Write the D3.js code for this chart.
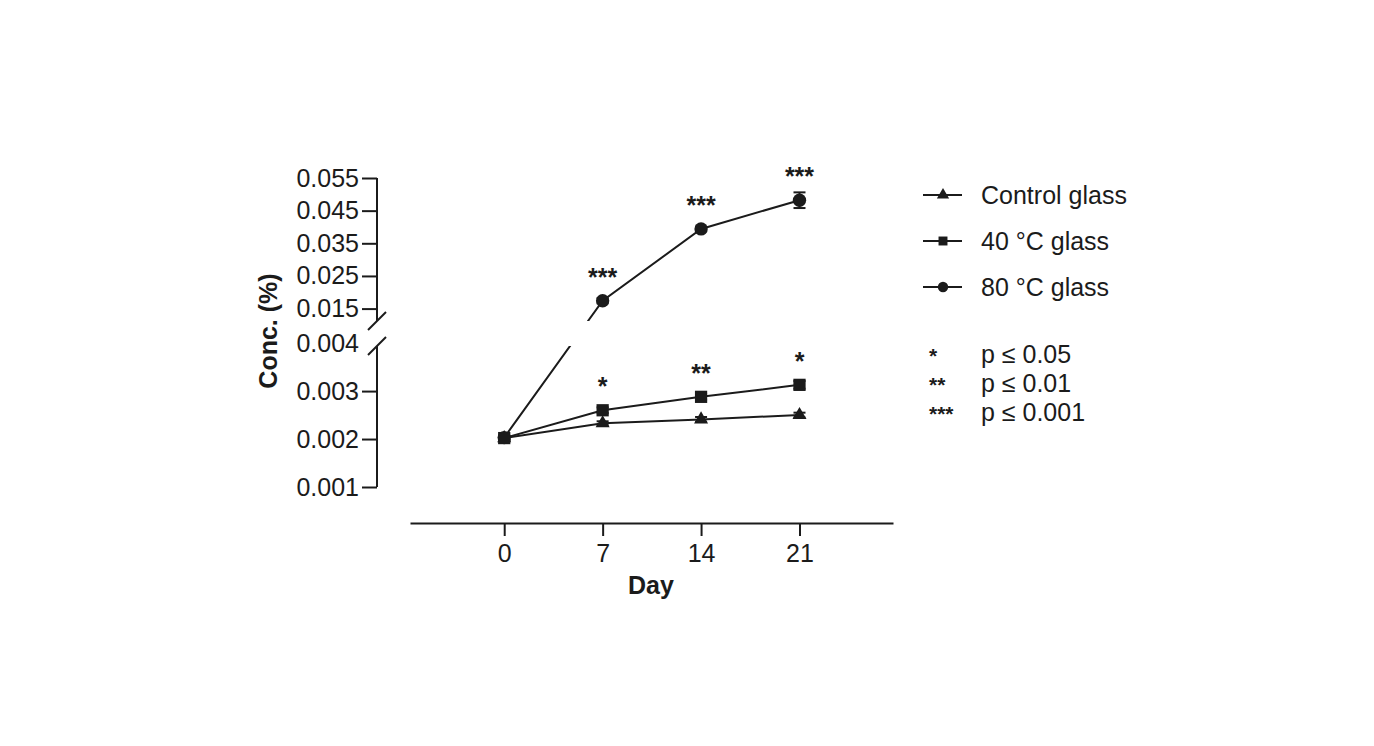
<!DOCTYPE html>
<html><head><meta charset="utf-8">
<script src="https://cdn.jsdelivr.net/npm/d3@7"></script>
<style>body{margin:0;background:#fff}</style>
</head><body><svg id="c" width="1374" height="746"></svg>
<script>
// ---- data ----
const days = [0, 7, 14, 21];
const xTicks = [0, 7, 14, 21];
const seriesNames = ["Control glass", "40 °C glass", "80 °C glass"];
const controlVals = [0.00202, 0.00233, 0.00241, 0.00250];
const glass40Vals = [0.00202, 0.00260, 0.00288, 0.00313];
const glass80Vals = [0.00203, 0.0174, 0.0394, 0.0482];
const controlErr = [0.00004, 0.00004, 0.00005, 0.00005];
const glass40Err = [0.00004, 0.00006, 0.00006, 0.00008];
const glass80Err = [0.00004, 0.0008, 0.0007, 0.0024];
const upperTicks = [0.015, 0.025, 0.035, 0.045, 0.055];
const lowerTicks = [0.001, 0.002, 0.003, 0.004];
const sig40 = ["", "*", "**", "*"];
const sig80 = ["", "***", "***", "***"];
const sigLegendMarks = ["*", "**", "***"];
const sigLegendLabels = ["p ≤ 0.05", "p ≤ 0.01", "p ≤ 0.001"];

// ---- setup ----
const FONT = "'Liberation Sans', Arial, sans-serif";
const INK = "#1b1b1b";
const svg = d3.select("#c");

const x = d3.scaleLinear().domain([-6.7, 27.65]).range([410, 893]);
const yHigh = d3.scaleLinear().domain([0.0112, 0.055]).range([321, 178]);
const yLow = d3.scaleLinear().domain([0.001, 0.00394]).range([487, 346]);
const y = v => (v >= 0.005 ? yHigh(v) : yLow(v));
const axisX = 377;

function styleAxis(g, size) {
  g.attr("font-family", FONT).attr("font-size", size);
  g.selectAll("line").attr("stroke", INK).attr("stroke-width", 2);
  g.selectAll("path").attr("stroke", INK).attr("stroke-width", 2);
  g.selectAll("text").attr("fill", INK);
}

// upper y axis
const gUp = svg.append("g").attr("transform", `translate(${axisX},0)`)
  .call(d3.axisLeft(yHigh).tickValues(upperTicks).tickSize(15).tickPadding(3).tickFormat(d3.format(".3f")));
gUp.select(".domain").remove();
styleAxis(gUp, 25);
// lower y axis
const gLow = svg.append("g").attr("transform", `translate(${axisX},0)`)
  .call(d3.axisLeft(yLow).tickValues(lowerTicks).tickSize(15).tickPadding(3).tickFormat(d3.format(".3f")));
gLow.select(".domain").remove();
gLow.selectAll(".tick").filter(d => d === 0.004).select("line").remove();
styleAxis(gLow, 25);

// axis segments
svg.append("line").attr("x1", axisX).attr("x2", axisX).attr("y1", yHigh(0.055)).attr("y2", yHigh.range()[0])
  .attr("stroke", INK).attr("stroke-width", 2);
svg.append("line").attr("x1", axisX).attr("x2", axisX).attr("y1", yLow.range()[1]).attr("y2", yLow(0.001))
  .attr("stroke", INK).attr("stroke-width", 2);
// break marks
[yHigh.range()[0], yLow.range()[1]].forEach(cy => {
  svg.append("line").attr("x1", axisX - 9).attr("y1", cy + 9).attr("x2", axisX + 9).attr("y2", cy - 9)
    .attr("stroke", INK).attr("stroke-width", 2);
});

// x axis
const gx = svg.append("g").attr("transform", "translate(0,523)")
  .call(d3.axisBottom(x).tickValues(xTicks).tickSize(13).tickSizeOuter(0).tickPadding(8));
styleAxis(gx, 25);

// axis titles
svg.append("text").attr("x", 651).attr("y", 594).attr("text-anchor", "middle")
  .attr("font-family", FONT).attr("font-size", 25).attr("font-weight", "bold").attr("fill", INK).text("Day");
svg.append("text").attr("transform", "translate(277,331) rotate(-90)").attr("text-anchor", "middle")
  .attr("font-family", FONT).attr("font-size", 25).attr("font-weight", "bold").attr("fill", INK).text("Conc. (%)");

// clip for broken axis
const defs = svg.append("defs");
const cp = defs.append("clipPath").attr("id", "brk");
cp.append("rect").attr("x", 0).attr("y", 0).attr("width", 1374).attr("height", yHigh.range()[0]);
cp.append("rect").attr("x", 0).attr("y", yLow.range()[1]).attr("width", 1374).attr("height", 746 - yLow.range()[1]);

const series = [
  { name: seriesNames[2], vals: glass80Vals, err: glass80Err, sym: d3.symbolCircle, size: 140 },
  { name: seriesNames[0], vals: controlVals, err: controlErr, sym: d3.symbolTriangle, size: 85 },
  { name: seriesNames[1], vals: glass40Vals, err: glass40Err, sym: d3.symbolSquare, size: 150 }
];

const line = d3.line().x((d, i) => x(days[i])).y(d => y(d));
const gLines = svg.append("g").attr("clip-path", "url(#brk)");
series.forEach(s => {
  gLines.append("path").datum(s.vals).attr("d", line).attr("fill", "none")
    .attr("stroke", INK).attr("stroke-width", 2);
});
series.forEach(s => {
  const g = svg.append("g");
  s.vals.forEach((v, i) => {
    const cx = x(days[i]);
    const t = y(v + s.err[i]), b = y(v - s.err[i]);
    g.append("line").attr("x1", cx).attr("x2", cx).attr("y1", t).attr("y2", b).attr("stroke", INK).attr("stroke-width", 2);
    g.append("line").attr("x1", cx - 6).attr("x2", cx + 6).attr("y1", t).attr("y2", t).attr("stroke", INK).attr("stroke-width", 2);
    g.append("line").attr("x1", cx - 6).attr("x2", cx + 6).attr("y1", b).attr("y2", b).attr("stroke", INK).attr("stroke-width", 2);
  });
  g.selectAll("path").data(s.vals).join("path")
    .attr("d", d3.symbol().type(s.sym).size(s.size))
    .attr("transform", (d, i) => `translate(${x(days[i])},${y(d)})`)
    .attr("fill", INK);
});

// significance marks
function sigText(vals, marks) {
  marks.forEach((m, i) => {
    if (!m) return;
    svg.append("text").attr("x", x(days[i])).attr("y", y(vals[i]) - 15).attr("text-anchor", "middle")
      .attr("font-family", FONT).attr("font-size", 25).attr("font-weight", "bold").attr("fill", INK).text(m);
  });
}
sigText(glass40Vals, sig40);
sigText(glass80Vals, sig80);

// legend
const legendOrder = [
  { name: seriesNames[0], sym: d3.symbolTriangle, size: 65 },
  { name: seriesNames[1], sym: d3.symbolSquare, size: 80 },
  { name: seriesNames[2], sym: d3.symbolCircle, size: 85 }
];
const lg = svg.append("g").attr("transform", "translate(923,195)");
legendOrder.forEach((s, i) => {
  const r = lg.append("g").attr("transform", `translate(0,${i * 46})`);
  r.append("line").attr("x1", 0).attr("x2", 39).attr("y1", 0).attr("y2", 0).attr("stroke", INK).attr("stroke-width", 2);
  r.append("path").attr("d", d3.symbol().type(s.sym).size(s.size)).attr("transform", "translate(20,0)").attr("fill", INK);
  r.append("text").attr("x", 58).attr("y", 8.5).attr("font-family", FONT).attr("font-size", 25).attr("fill", INK).text(s.name);
});
const sg = svg.append("g").attr("transform", "translate(929,363)");
sigLegendMarks.forEach((m, i) => {
  sg.append("text").attr("x", 0).attr("y", i * 29).attr("font-family", FONT).attr("font-size", 21).attr("font-weight", "bold").attr("fill", INK).text(m);
  sg.append("text").attr("x", 52).attr("y", i * 29).attr("font-family", FONT).attr("font-size", 25).attr("fill", INK).text(sigLegendLabels[i]);
});
</script>
</body></html>
